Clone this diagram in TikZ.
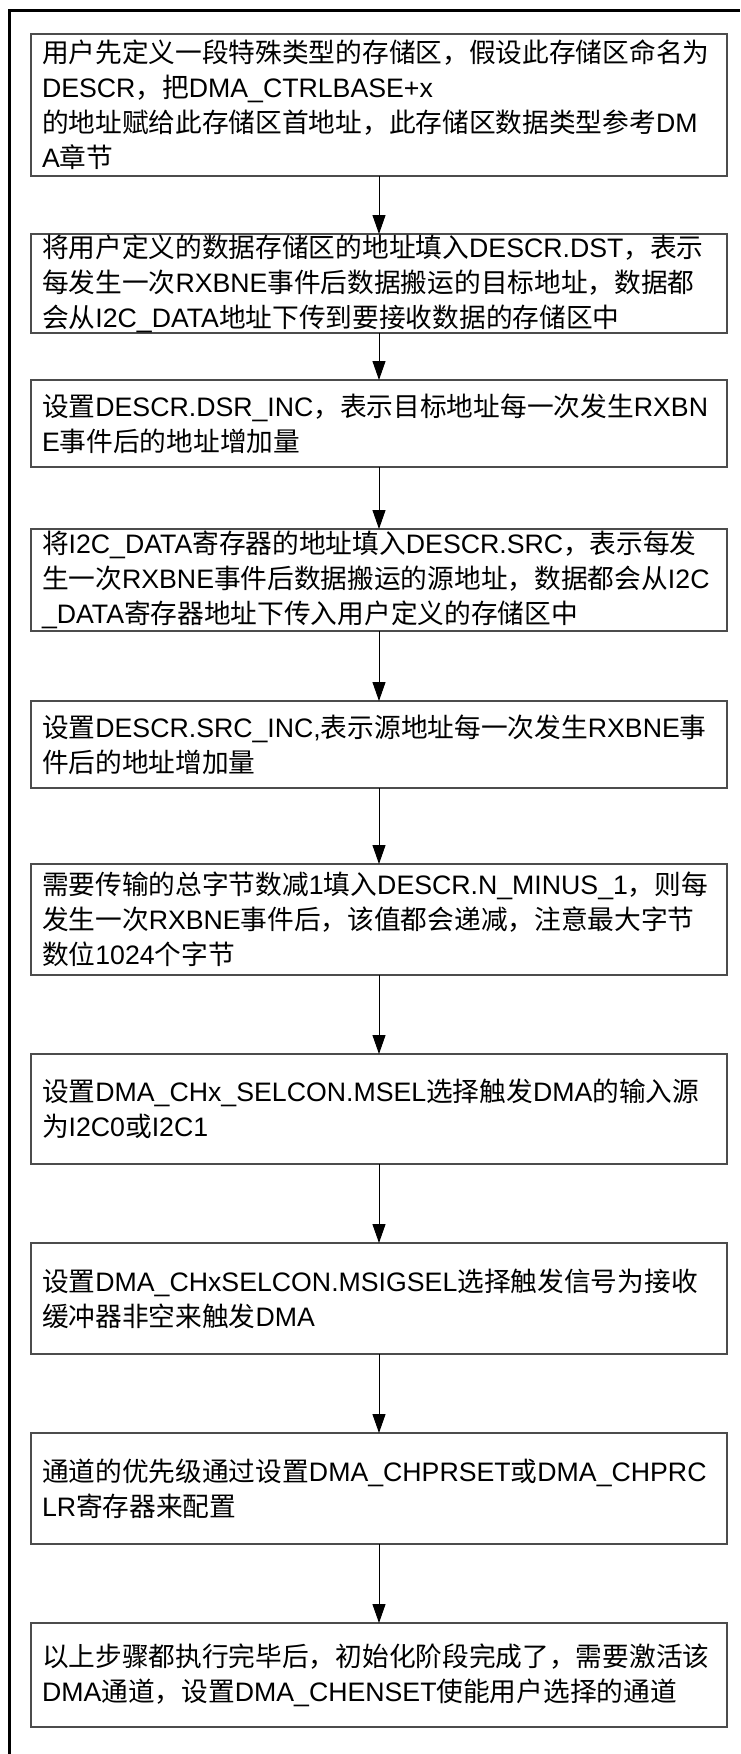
\documentclass[tikz,border=0pt]{standalone}
\usepackage{fontspec}
\setmainfont{Liberation Sans}
\newfontfamily\cjkfont{Noto Sans CJK SC}
\newcommand\z[1]{{\cjkfont #1}}
\usetikzlibrary{arrows.meta}
\tikzset{
  stepbox/.style={draw=black!70, line width=1.1pt, rectangle, outer sep=0pt,
    minimum width=696pt, inner xsep=11pt, inner ysep=0pt, text width=674pt,
    align=left, font=\fontsize{26.7pt}{35pt}\selectfont},
  flow/.style={line width=1pt, -{Triangle[length=19pt,width=13pt]}},
  frame/.style={line width=3pt}
}
\begin{document}
\begin{tikzpicture}[x=1pt,y=-1pt]
\useasboundingbox (0,0) rectangle (740,1754);
\draw[frame] (9,1754) -- (9,10) -- (740,10);

\node[stepbox, minimum height=142pt] (b1) at (379,105) {\z{用户先定义一段特殊类型的存储区，假设此存储区命名为}\\DESCR\z{，把}DMA\_CTRLBASE+x\\\z{的地址赋给此存储区首地址，此存储区数据类型参考}DM\\A\z{章节}};

\node[stepbox, minimum height=99pt] (b2) at (379,283.5) {\z{将用户定义的数据存储区的地址填入}DESCR.DST\z{，表示}\\\z{每发生一次}RXBNE\z{事件后数据搬运的目标地址，数据都}\\\z{会从}I2C\_DATA\z{地址下传到要接收数据的存储区中}};

\node[stepbox, minimum height=87pt] (b3) at (379,423.5) {\z{设置}DESCR.DSR\_INC\z{，表示目标地址每一次发生}RXBN\\E\z{事件后的地址增加量}};

\node[stepbox, minimum height=102pt] (b4) at (379,580) {\z{将}I2C\_DATA\z{寄存器的地址填入}DESCR.SRC\z{，表示每发}\\\z{生一次}RXBNE\z{事件后数据搬运的源地址，数据都会从}I2C\\\_DATA\z{寄存器地址下传入用户定义的存储区中}};

\node[stepbox, minimum height=87pt] (b5) at (379,744.5) {\z{设置}DESCR.SRC\_INC,\z{表示源地址每一次发生}RXBNE\z{事}\\\z{件后的地址增加量}};

\node[stepbox, minimum height=111pt] (b6) at (379,919.5) {\z{需要传输的总字节数减}1\z{填入}DESCR.N\_MINUS\_1\z{，则每}\\\z{发生一次}RXBNE\z{事件后，该值都会递减，注意最大字节}\\\z{数位}1024\z{个字节}};

\node[stepbox, minimum height=110pt] (b7) at (379,1109) {\z{设置}DMA\_CHx\_SELCON.MSEL\z{选择触发}DMA\z{的输入源}\\\z{为}I2C0\z{或}I2C1};

\node[stepbox, minimum height=111pt] (b8) at (379,1298.5) {\z{设置}DMA\_CHxSELCON.MSIGSEL\z{选择触发信号为接收}\\\z{缓冲器非空来触发}DMA};

\node[stepbox, minimum height=111pt] (b9) at (379,1488.5) {\z{通道的优先级通过设置}DMA\_CHPRSET\z{或}DMA\_CHPRC\\LR\z{寄存器来配置}};

\node[stepbox, minimum height=104pt] (b10) at (379,1675) {\z{以上步骤都执行完毕后，初始化阶段完成了，需要激活该}\\DMA\z{通道，设置}DMA\_CHENSET\z{使能用户选择的通道}};

\draw[flow] (b1.south) -- (b2.north);
\draw[flow] (b2.south) -- (b3.north);
\draw[flow] (b3.south) -- (b4.north);
\draw[flow] (b4.south) -- (b5.north);
\draw[flow] (b5.south) -- (b6.north);
\draw[flow] (b6.south) -- (b7.north);
\draw[flow] (b7.south) -- (b8.north);
\draw[flow] (b8.south) -- (b9.north);
\draw[flow] (b9.south) -- (b10.north);
\end{tikzpicture}
\end{document}
